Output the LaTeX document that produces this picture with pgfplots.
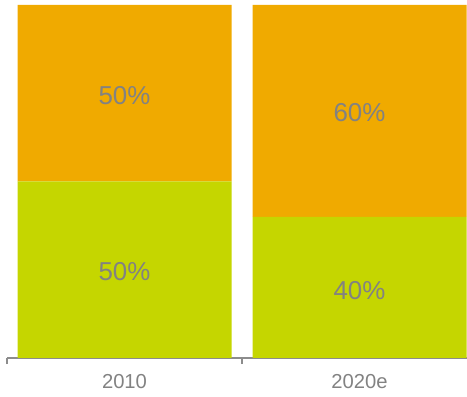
\documentclass[border=0pt]{standalone}
\usepackage{pgfplots}
\pgfplotsset{compat=1.18}
\usepackage{fontspec}
\setmainfont{Liberation Sans}
\definecolor{cOrange}{HTML}{F0AA00}
\definecolor{cGreen}{HTML}{C5D600}
\definecolor{cText}{HTML}{828282}
\definecolor{cAxis}{HTML}{8C8C8C}
\begin{document}
\begin{tikzpicture}
\useasboundingbox (0,0) rectangle (467bp,397bp);
\pgfplotsset{
  common/.style={
    at={(7bp,39bp)}, anchor=south west,
    scale only axis, width=460bp, height=353bp,
    xmin=-0.5, xmax=1.4574, ymin=0, ymax=100,
    clip=true,
  }
}
\begin{axis}[common,
  ybar stacked, bar width=0.9106,
  axis y line=none, axis x line*=bottom,
  x axis line style={draw=cAxis, line width=1.3bp},
  xtick={0,1}, xticklabels={2010,2020e},
  major tick length=0pt,
  xtick pos=bottom, tick align=outside,
  extra x ticks={-0.5,0.5,1.5}, extra x tick labels={},
  extra x tick style={major tick length=6bp, tick style={draw=cAxis, line width=1.3bp}},
  xticklabel style={font=\fontsize{20.3}{22}\selectfont, text=cText, anchor=base, yshift=-30.5bp},
  /pgf/number format/assume math mode=true,
]
\addplot[fill=cGreen, draw=none] coordinates {(0,50) (1,40)};
\addplot[fill=cOrange, draw=none] coordinates {(0,50) (1,60)};
\end{axis}
\begin{axis}[common, hide axis]
\addplot[draw=none, mark=none, nodes near coords, point meta=explicit symbolic,
  nodes near coords style={anchor=center, font=\fontsize{26}{28}\selectfont, text=cText}]
  coordinates {(0,24.6)[50\%] (0,74.4)[50\%] (1,19.2)[40\%] (1,69.4)[60\%]};
\end{axis}
\end{tikzpicture}
\end{document}
